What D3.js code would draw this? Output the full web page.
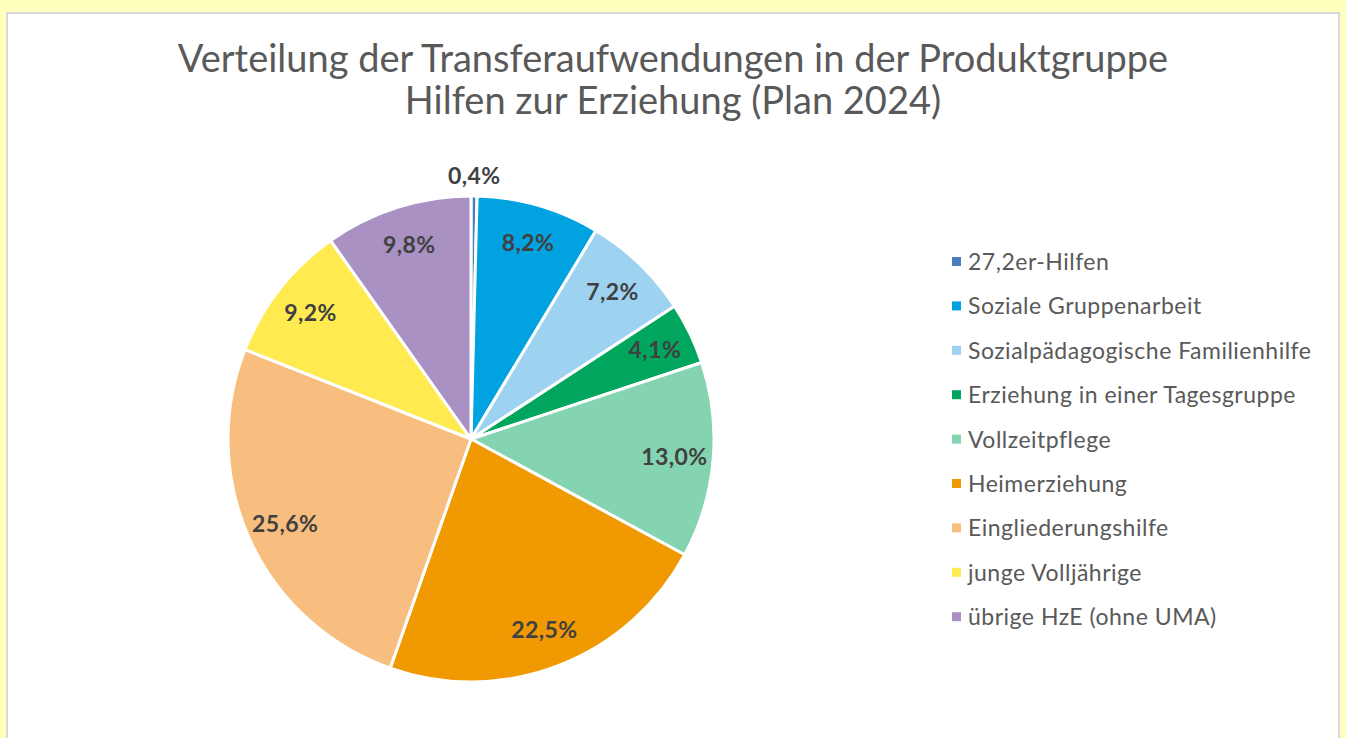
<!DOCTYPE html>
<html>
<head>
<meta charset="utf-8">
<script src="https://cdn.jsdelivr.net/npm/d3@7"></script>
<style>
  html, body { margin: 0; padding: 0; background: #ffffbe; }
  svg { display: block; font-family: Lato, "Open Sans", sans-serif; }
</style>
</head>
<body>
<svg id="chart" width="1346" height="738"></svg>
<script>
const categories = [
  "27,2er-Hilfen",
  "Soziale Gruppenarbeit",
  "Sozialpädagogische Familienhilfe",
  "Erziehung in einer Tagesgruppe",
  "Vollzeitpflege",
  "Heimerziehung",
  "Eingliederungshilfe",
  "junge Volljährige",
  "übrige HzE (ohne UMA)"
];
const shares = [0.4, 8.2, 7.2, 4.1, 13.0, 22.5, 25.6, 9.2, 9.8];
const colors = ["#4a7ebb", "#00a3e0", "#9dd2f1", "#00a65d", "#84d4b2", "#f09900", "#f7be80", "#ffeb50", "#aa91c3"];
const titleLines = ["Verteilung der Transferaufwendungen in der Produktgruppe", "Hilfen zur Erziehung (Plan 2024)"];

const width = 1346, height = 738;
const svg = d3.select("#chart");

// white chart panel
svg.append("rect")
  .attr("x", 7).attr("y", 13)
  .attr("width", 1332).attr("height", 760)
  .attr("fill", "#fff")
  .attr("stroke", "#d9d9d9")
  .attr("stroke-width", 2);

// title
svg.append("text")
  .attr("text-anchor", "middle")
  .attr("fill", "#595959")
  .attr("font-size", 38)
  .selectAll("tspan")
  .data(titleLines)
  .join("tspan")
  .attr("x", 673)
  .attr("y", (d, i) => 72 + i * 42)
  .text(d => d);

// pie
const cx = 471, cy = 439, R = 243;
const data = categories.map((c, i) => ({ name: c, value: shares[i], color: colors[i] }));
const pie = d3.pie().sort(null).value(d => d.value);
const arcs = pie(data);
const arc = d3.arc().innerRadius(0).outerRadius(R);
const labelArc = d3.arc().innerRadius(R * 0.84).outerRadius(R * 0.84);
const outerLabelArc = d3.arc().innerRadius(R + 20).outerRadius(R + 20);

const g = svg.append("g").attr("transform", `translate(${cx},${cy})`);

g.selectAll("path")
  .data(arcs)
  .join("path")
  .attr("d", arc)
  .attr("fill", d => d.data.color)
  .attr("stroke", "#fff")
  .attr("stroke-width", 3)
  .attr("stroke-linejoin", "round");

const fmt = v => v.toFixed(1).replace(".", ",") + "%";

g.selectAll("text.lbl")
  .data(arcs)
  .join("text")
  .attr("class", "lbl")
  .attr("transform", d => {
    const p = d.data.value < 1 ? outerLabelArc.centroid(d) : labelArc.centroid(d);
    return `translate(${p[0]},${p[1]})`;
  })
  .attr("text-anchor", "middle")
  .attr("dy", "0.35em")
  .attr("fill", "#404040")
  .attr("font-size", 23)
  .attr("letter-spacing", 0.4)
  .attr("font-weight", "bold")
  .text(d => fmt(d.data.value));

// legend
const legend = svg.append("g").attr("transform", "translate(952,262)");
const row = legend.selectAll("g")
  .data(data)
  .join("g")
  .attr("transform", (d, i) => `translate(0,${i * 44.4})`);

row.append("rect")
  .attr("x", 0).attr("y", -5)
  .attr("width", 9).attr("height", 9)
  .attr("fill", d => d.color);

row.append("text")
  .attr("x", 16)
  .attr("dy", "0.35em")
  .attr("fill", "#595959")
  .attr("font-size", 23)
  .attr("letter-spacing", 0.5)
  .text(d => d.name);
</script>
</body>
</html>
